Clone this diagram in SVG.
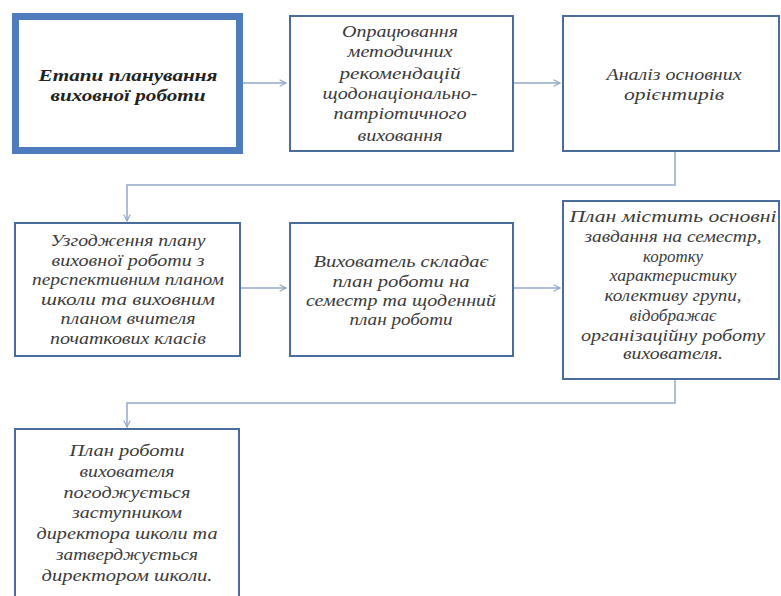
<svg xmlns="http://www.w3.org/2000/svg" width="781" height="596" viewBox="0 0 781 596">
<defs>
<style>
.box{fill:#ffffff;stroke:#4b6d9e;stroke-width:2}
.main{fill:#ffffff;stroke:#4f7cbd;stroke-width:7}
.t{font-family:"Liberation Serif","Times New Roman",serif;font-style:italic;font-size:16px;fill:#3a3a3a;text-anchor:middle}
.tb{font-family:"Liberation Serif","Times New Roman",serif;font-style:italic;font-weight:bold;font-size:17px;fill:#222222;text-anchor:middle}
.c{fill:none;stroke:#93a9c9;stroke-width:1.5}
</style>
<marker id="ah" viewBox="0 0 10 10" refX="9" refY="5" markerWidth="8" markerHeight="8" markerUnits="userSpaceOnUse" orient="auto">
<path d="M1,1 L9,5 L1,9" fill="none" stroke="#93a9c9" stroke-width="1.5"/>
</marker>
</defs>
<rect width="781" height="596" fill="#ffffff"/>
<g id="connectors">
<line class="c" x1="243" y1="83" x2="286" y2="83" marker-end="url(#ah)"/>
<line class="c" x1="513" y1="83" x2="560" y2="83" marker-end="url(#ah)"/>
<polyline class="c" points="675,151 675,185 127,185 127,221" marker-end="url(#ah)"/>
<line class="c" x1="240" y1="288" x2="286" y2="288" marker-end="url(#ah)"/>
<line class="c" x1="513" y1="288" x2="560" y2="288" marker-end="url(#ah)"/>
<polyline class="c" points="675,379 675,403 127,403 127,427" marker-end="url(#ah)"/>
</g>
<g id="node1">
<rect class="main" x="15.5" y="16.5" width="224" height="134"/>
<text class="tb" x="128" y="81" textLength="179" lengthAdjust="spacingAndGlyphs">Етапи планування</text>
<text class="tb" x="128" y="101" textLength="155" lengthAdjust="spacingAndGlyphs">виховної роботи</text>
</g>
<g id="node2">
<rect class="box" x="290" y="16" width="223" height="135"/>
<text class="t" x="400" y="37" textLength="116" lengthAdjust="spacingAndGlyphs">Опрацювання</text>
<text class="t" x="400" y="57" textLength="105" lengthAdjust="spacingAndGlyphs">методичних</text>
<text class="t" x="400" y="79" textLength="121" lengthAdjust="spacingAndGlyphs">рекомендацій</text>
<text class="t" x="400" y="99" textLength="155" lengthAdjust="spacingAndGlyphs">щодонаціонально-</text>
<text class="t" x="400" y="119" textLength="133" lengthAdjust="spacingAndGlyphs">патріотичного</text>
<text class="t" x="400" y="141" textLength="85" lengthAdjust="spacingAndGlyphs">виховання</text>
</g>
<g id="node3">
<rect class="box" x="563" y="16" width="216" height="135"/>
<text class="t" x="674" y="80" textLength="135" lengthAdjust="spacingAndGlyphs">Аналіз основних</text>
<text class="t" x="674" y="100" textLength="100" lengthAdjust="spacingAndGlyphs">орієнтирів</text>
</g>
<g id="node4">
<rect class="box" x="15" y="223" width="225" height="133"/>
<text class="t" x="128" y="246" textLength="155" lengthAdjust="spacingAndGlyphs">Узгодження плану</text>
<text class="t" x="128" y="266" textLength="153" lengthAdjust="spacingAndGlyphs">виховної роботи з</text>
<text class="t" x="128" y="285" textLength="192" lengthAdjust="spacingAndGlyphs">перспективним планом</text>
<text class="t" x="128" y="305" textLength="174" lengthAdjust="spacingAndGlyphs">школи та виховним</text>
<text class="t" x="128" y="324" textLength="135" lengthAdjust="spacingAndGlyphs">планом вчителя</text>
<text class="t" x="128" y="344" textLength="156" lengthAdjust="spacingAndGlyphs">початкових класів</text>
</g>
<g id="node5">
<rect class="box" x="290" y="223" width="223" height="133"/>
<text class="t" x="401" y="267" textLength="175" lengthAdjust="spacingAndGlyphs">Вихователь складає</text>
<text class="t" x="401" y="287" textLength="137" lengthAdjust="spacingAndGlyphs">план роботи на</text>
<text class="t" x="401" y="306" textLength="190" lengthAdjust="spacingAndGlyphs">семестр та щоденний</text>
<text class="t" x="401" y="325" textLength="103" lengthAdjust="spacingAndGlyphs">план роботи</text>
</g>
<g id="node6">
<rect class="box" x="563" y="201" width="216" height="178"/>
<text class="t" x="673" y="222" textLength="207" lengthAdjust="spacingAndGlyphs">План містить основні</text>
<text class="t" x="673" y="242" textLength="177" lengthAdjust="spacingAndGlyphs">завдання на семестр,</text>
<text class="t" x="673" y="262" textLength="60" lengthAdjust="spacingAndGlyphs">коротку</text>
<text class="t" x="673" y="281" textLength="127" lengthAdjust="spacingAndGlyphs">характеристику</text>
<text class="t" x="673" y="301" textLength="137" lengthAdjust="spacingAndGlyphs">колективу групи,</text>
<text class="t" x="673" y="321" textLength="87" lengthAdjust="spacingAndGlyphs">відображає</text>
<text class="t" x="673" y="341" textLength="184" lengthAdjust="spacingAndGlyphs">організаційну роботу</text>
<text class="t" x="673" y="359" textLength="100" lengthAdjust="spacingAndGlyphs">вихователя.</text>
</g>
<g id="node7">
<rect class="box" x="15" y="429" width="224" height="190"/>
<text class="t" x="127" y="456" textLength="115" lengthAdjust="spacingAndGlyphs">План роботи</text>
<text class="t" x="127" y="477" textLength="95" lengthAdjust="spacingAndGlyphs">вихователя</text>
<text class="t" x="127" y="498" textLength="127" lengthAdjust="spacingAndGlyphs">погоджується</text>
<text class="t" x="127" y="518" textLength="110" lengthAdjust="spacingAndGlyphs">заступником</text>
<text class="t" x="127" y="539" textLength="181" lengthAdjust="spacingAndGlyphs">директора школи та</text>
<text class="t" x="127" y="560" textLength="142" lengthAdjust="spacingAndGlyphs">затверджується</text>
<text class="t" x="127" y="581" textLength="171" lengthAdjust="spacingAndGlyphs">директором школи.</text>
</g>
</svg>
